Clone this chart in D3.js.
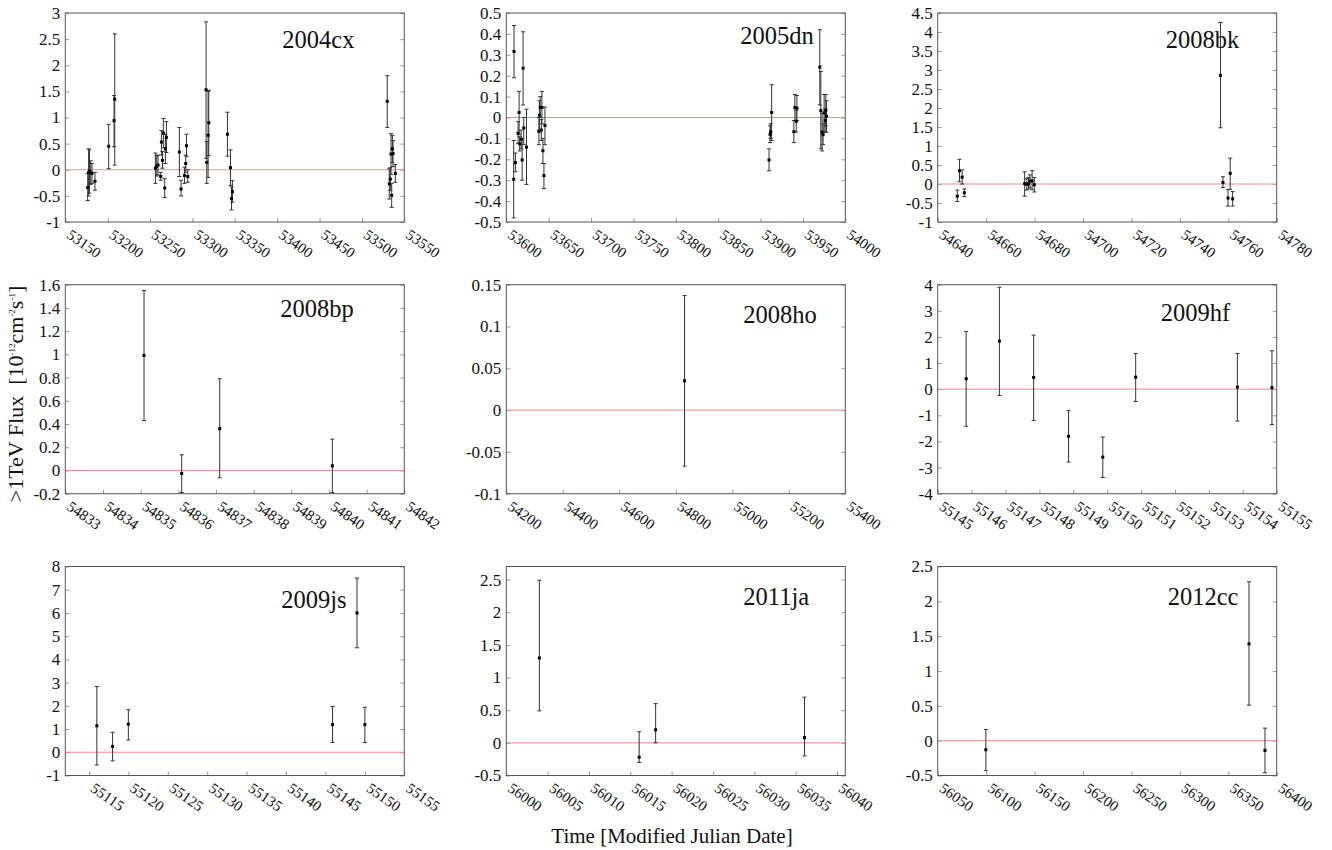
<!DOCTYPE html>
<html>
<head>
<meta charset="utf-8">
<script src="https://cdn.jsdelivr.net/npm/d3@7"></script>
<style>
body { margin: 0; background: #fff; }
svg text { font-family: "Liberation Serif", "Times New Roman", serif; fill: #111; }
</style>
</head>
<body>
<div id="chart"></div>
<script>
// light curves, >1TeV flux in 1e-12 cm^-2 s^-1, lo/hi are the error bar ends
var names = ["2004cx", "2005dn", "2008bk", "2008bp", "2008ho", "2009hf", "2009js", "2011ja", "2012cc"];

var t2004cx = [53176.4, 53177.5, 53178.5, 53180, 53181.5, 53185, 53201.2, 53207.5, 53208.3,
  53256.3, 53257.9, 53259.4, 53262.6, 53263.4, 53264.6, 53265.7, 53267.3, 53268.1, 53269.3,
  53284.6, 53286.6, 53290.6, 53292.1, 53293, 53294.5, 53316.1, 53316.9, 53318.5, 53319.3,
  53341.3, 53344.9, 53346.1, 53347.2, 53529.9, 53532.3, 53533.5, 53534.3, 53535.1, 53535.9, 53536.7, 53539.4];
var f2004cx = [-0.34, -0.05, -0.03, -0.05, -0.07, -0.22, 0.45, 0.94, 1.35,
  0.03, 0.07, 0.09, -0.13, 0.53, 0.18, 0.7, -0.35, 0.4, 0.62,
  0.34, -0.37, -0.11, 0.12, 0.46, -0.13, 1.53, 0.14, 0.66, 0.9,
  0.68, 0.04, -0.55, -0.42, 1.31, -0.27, -0.18, 0.3, -0.49, 0.4, 0.31, -0.07];
var lo2004cx = [-0.59, -0.5, -0.45, -0.28, -0.26, -0.39, 0.02, 0.44, 0.09,
  -0.26, -0.12, -0.1, -0.2, 0.28, 0.03, 0.42, -0.53, 0.12, 0.33,
  -0.13, -0.5, -0.26, -0.05, 0.25, -0.24, 0.22, -0.26, -0.15, 0.27,
  0.26, -0.3, -0.77, -0.62, 0.81, -0.56, -0.4, -0.09, -0.72, 0.14, 0.06, -0.24];
var hi2004cx = [-0.07, 0.4, 0.38, 0.17, 0.12, -0.05, 0.87, 1.42, 2.6,
  0.32, 0.27, 0.28, -0.05, 0.75, 0.35, 0.98, -0.17, 0.68, 0.92,
  0.81, -0.2, 0.05, 0.28, 0.68, 0.0, 2.83, 0.54, 1.5, 1.52,
  1.1, 0.38, -0.33, -0.21, 1.8, 0.02, 0.04, 0.69, -0.26, 0.66, 0.56, 0.1];

var t2005dn = [53608.7, 53609.1, 53610.7, 53613.9, 53615.1, 53615.8, 53617.5, 53618.7, 53619.8, 53620.6, 53623.8,
  53638.5, 53639.1, 53640, 53641.3, 53642, 53643.2, 53644.4, 53645.6,
  53910, 53911.2, 53911.9, 53913.1, 53939.3, 53940.5, 53942.1, 53942.9,
  53969.9, 53971.1, 53972.6, 53973.8, 53975, 53976.2, 53977, 53977.8];
var f2005dn = [-0.296, 0.316, -0.216, -0.075, 0.024, -0.126, -0.104, -0.203, 0.236, -0.05, -0.142,
  -0.067, 0.011, 0.049, -0.06, 0.048, -0.159, -0.278, -0.038,
  -0.203, -0.081, -0.068, 0.024, -0.068, 0.048, -0.018, 0.045,
  0.241, 0.033, -0.07, -0.082, 0.022, -0.015, 0.035, 0.006];
var lo2005dn = [-0.48, 0.19, -0.26, -0.125, -0.08, -0.16, -0.15, -0.3, 0.06, -0.13, -0.32,
  -0.13, -0.06, 0.0, -0.11, -0.03, -0.22, -0.34, -0.13,
  -0.255, -0.12, -0.1, -0.11, -0.12, -0.015, -0.07, -0.015,
  0.06, -0.15, -0.16, -0.13, -0.07, -0.07, -0.04, -0.07];
var hi2005dn = [-0.11, 0.44, -0.17, -0.02, 0.125, -0.09, -0.06, -0.1, 0.41, 0.0, 0.04,
  0.0, 0.08, 0.1, -0.01, 0.125, -0.1, -0.22, 0.05,
  -0.15, -0.04, -0.03, 0.157, -0.015, 0.11, 0.035, 0.105,
  0.42, 0.22, 0.02, -0.03, 0.11, 0.04, 0.11, 0.08];

var t2008bk = [54648.1, 54649, 54650.1, 54651, 54675.9, 54676.8, 54677.5, 54678.1, 54679, 54679.9,
  54756.8, 54757.8, 54759.9, 54760.8, 54761.8];
var f2008bk = [-0.32, 0.35, 0.18, -0.23, 0.01, -0.01, 0.01, 0.08, 0.08, -0.02,
  2.86, 0.04, -0.37, 0.28, -0.39];
var lo2008bk = [-0.46, 0.06, 0.0, -0.33, -0.32, -0.16, -0.13, -0.1, -0.15, -0.21,
  1.48, -0.09, -0.58, -0.14, -0.58];
var hi2008bk = [-0.16, 0.65, 0.37, -0.13, 0.32, 0.14, 0.17, 0.24, 0.35, 0.17,
  4.25, 0.19, -0.15, 0.68, -0.2];

var t2008bp = [54835.09, 54836.09, 54837.1, 54840.09];
var f2008bp = [0.99, -0.026, 0.36, 0.04];
var lo2008bp = [0.43, -0.19, -0.063, -0.19];
var hi2008bp = [1.55, 0.135, 0.79, 0.27];

var t2008ho = [54831];
var f2008ho = [0.035];
var lo2008ho = [-0.067];
var hi2008ho = [0.137];

var t2009hf = [55145.84, 55146.82, 55147.83, 55148.86, 55149.87, 55150.84, 55153.84, 55154.86];
var f2009hf = [0.4, 1.84, 0.45, -1.8, -2.6, 0.46, 0.08, 0.06];
var lo2009hf = [-1.42, -0.24, -1.2, -2.79, -3.38, -0.47, -1.22, -1.35];
var hi2009hf = [2.21, 3.9, 2.07, -0.82, -1.83, 1.37, 1.37, 1.47];

var t2009js = [55116, 55118, 55120, 55145.9, 55149, 55150];
var f2009js = [1.14, 0.25, 1.21, 1.19, 6.0, 1.19];
var lo2009js = [-0.55, -0.37, 0.53, 0.42, 4.5, 0.42];
var hi2009js = [2.83, 0.86, 1.83, 1.97, 7.5, 1.94];

var t2011ja = [56004, 56016.07, 56018.06, 56036.07];
var f2011ja = [1.3, -0.22, 0.2, 0.08];
var lo2011ja = [0.49, -0.3, 0.0, -0.2];
var hi2011ja = [2.49, 0.17, 0.6, 0.7];

var t2012cc = [56099.7, 56371.4, 56387.9];
var f2012cc = [-0.13, 1.39, -0.14];
var lo2012cc = [-0.43, 0.51, -0.46];
var hi2012cc = [0.16, 2.28, 0.18];

// axis ticks
var xTicks = [
  [53150, 53200, 53250, 53300, 53350, 53400, 53450, 53500, 53550],
  [53600, 53650, 53700, 53750, 53800, 53850, 53900, 53950, 54000],
  [54640, 54660, 54680, 54700, 54720, 54740, 54760, 54780],
  [54833, 54834, 54835, 54836, 54837, 54838, 54839, 54840, 54841, 54842],
  [54200, 54400, 54600, 54800, 55000, 55200, 55400],
  [55145, 55146, 55147, 55148, 55149, 55150, 55151, 55152, 55153, 55154, 55155],
  [55115, 55120, 55125, 55130, 55135, 55140, 55145, 55150, 55155],
  [56000, 56005, 56010, 56015, 56020, 56025, 56030, 56035, 56040],
  [56050, 56100, 56150, 56200, 56250, 56300, 56350, 56400]
];
var yTicks = [
  [-1, -0.5, 0, 0.5, 1, 1.5, 2, 2.5, 3],
  [-0.5, -0.4, -0.3, -0.2, -0.1, 0, 0.1, 0.2, 0.3, 0.4, 0.5],
  [-1, -0.5, 0, 0.5, 1, 1.5, 2, 2.5, 3, 3.5, 4, 4.5],
  [-0.2, 0, 0.2, 0.4, 0.6, 0.8, 1, 1.2, 1.4, 1.6],
  [-0.1, -0.05, 0, 0.05, 0.1, 0.15],
  [-4, -3, -2, -1, 0, 1, 2, 3, 4],
  [-1, 0, 1, 2, 3, 4, 5, 6, 7, 8],
  [-0.5, 0, 0.5, 1, 1.5, 2, 2.5],
  [-0.5, 0, 0.5, 1, 1.5, 2, 2.5]
];
var xDomains = [[53150, 53550], [53600, 54000], [54640, 54780], [54833, 54842], [54200, 55400],
  [55145, 55155], [55112, 55155], [56000, 56041], [56050, 56400]];
var yDomains = [[-1, 3], [-0.5, 0.5], [-1, 4.5], [-0.2, 1.6], [-0.1, 0.15],
  [-4, 4], [-1, 8], [-0.5, 2.7], [-0.5, 2.5]];

var panels = [
  {t: t2004cx, f: f2004cx, lo: lo2004cx, hi: hi2004cx},
  {t: t2005dn, f: f2005dn, lo: lo2005dn, hi: hi2005dn},
  {t: t2008bk, f: f2008bk, lo: lo2008bk, hi: hi2008bk},
  {t: t2008bp, f: f2008bp, lo: lo2008bp, hi: hi2008bp},
  {t: t2008ho, f: f2008ho, lo: lo2008ho, hi: hi2008ho},
  {t: t2009hf, f: f2009hf, lo: lo2009hf, hi: hi2009hf},
  {t: t2009js, f: f2009js, lo: lo2009js, hi: hi2009js},
  {t: t2011ja, f: f2011ja, lo: lo2011ja, hi: hi2011ja},
  {t: t2012cc, f: f2012cc, lo: lo2012cc, hi: hi2012cc}
];

// layout
var svgWidth = 1332;
var svgHeight = 850;
var cols = [65.3, 506.3, 937.7];
var rows = [13, 284.7, 566.5];
var pw = 339;
var ph = 209;
var titleX = [217, 234, 228, 215, 237, 223, 216, 237, 230];
var titleY = [34.7, 31.3, 34.7, 32, 38, 36.3, 41, 38.3, 38.3];
var serif = '"Liberation Serif", "Times New Roman", serif';

var svg = d3.select("#chart")
  .append("svg")
  .attr("width", svgWidth)
  .attr("height", svgHeight);

var yFmt = d => String(+d.toFixed(3));

panels.forEach(function(p, i) {
  var g = svg.append("g")
    .attr("transform", `translate(${cols[i % 3]}, ${rows[Math.floor(i / 3)]})`);

  var x = d3.scaleLinear().domain(xDomains[i]).range([0, pw]);
  var y = d3.scaleLinear().domain(yDomains[i]).range([ph, 0]);

  var leftAxis = d3.axisLeft(y)
    .tickValues(yTicks[i])
    .tickSizeInner(-4)
    .tickSizeOuter(0)
    .tickPadding(5)
    .tickFormat(yFmt);
  var rightAxis = d3.axisRight(y)
    .tickValues(yTicks[i])
    .tickSizeInner(-4)
    .tickSizeOuter(0)
    .tickFormat("");
  var bottomAxis = d3.axisBottom(x)
    .tickValues(xTicks[i])
    .tickSizeInner(-4)
    .tickSizeOuter(0)
    .tickFormat(d => d);

  var ly = g.append("g").call(leftAxis).attr("font-family", null);
  ly.selectAll("text")
    .style("font-family", serif)
    .style("font-size", "17px");

  g.append("g")
    .attr("transform", `translate(${pw}, 0)`)
    .call(rightAxis);

  var bx = g.append("g")
    .attr("transform", `translate(0, ${ph})`)
    .call(bottomAxis)
    .attr("font-family", null);
  bx.selectAll("text")
    .attr("x", 0)
    .attr("y", 0)
    .attr("dy", null)
    .attr("text-anchor", "start")
    .attr("transform", "translate(0, 15) rotate(35)")
    .style("font-family", serif)
    .style("font-size", "15px");

  g.selectAll(".domain").remove();
  g.selectAll(".tick line").attr("stroke", "#999");

  // zero line
  g.append("line")
    .attr("x1", 0)
    .attr("x2", pw)
    .attr("y1", y(0))
    .attr("y2", y(0))
    .attr("stroke", "#f28c8c")
    .attr("stroke-width", 1);

  // frame
  g.append("rect")
    .attr("width", pw)
    .attr("height", ph)
    .attr("fill", "none")
    .attr("stroke", "#555")
    .attr("stroke-width", 1);

  var idx = d3.range(p.t.length);
  var bars = g.append("g").attr("stroke", "#333").attr("stroke-width", 1);

  bars.selectAll(".err")
    .data(idx)
    .enter()
    .append("line")
    .attr("x1", k => x(p.t[k]))
    .attr("x2", k => x(p.t[k]))
    .attr("y1", k => y(p.lo[k]))
    .attr("y2", k => y(p.hi[k]));

  bars.selectAll(".capLo")
    .data(idx)
    .enter()
    .append("line")
    .attr("x1", k => x(p.t[k]) - 2)
    .attr("x2", k => x(p.t[k]) + 2)
    .attr("y1", k => y(p.lo[k]))
    .attr("y2", k => y(p.lo[k]));

  bars.selectAll(".capHi")
    .data(idx)
    .enter()
    .append("line")
    .attr("x1", k => x(p.t[k]) - 2)
    .attr("x2", k => x(p.t[k]) + 2)
    .attr("y1", k => y(p.hi[k]))
    .attr("y2", k => y(p.hi[k]));

  g.selectAll(".pt")
    .data(idx)
    .enter()
    .append("rect")
    .attr("x", k => x(p.t[k]) - 1.5)
    .attr("y", k => y(p.f[k]) - 1.5)
    .attr("width", 3)
    .attr("height", 3)
    .attr("fill", "#000");

  g.append("text")
    .attr("x", titleX[i])
    .attr("y", titleY[i])
    .style("font-size", "24.5px")
    .text(names[i]);
});

// axis titles
var yLabel = svg.append("text")
  .attr("transform", "translate(23, 394) rotate(-90)")
  .attr("text-anchor", "middle")
  .style("font-size", "22px");
yLabel.append("tspan").text(">1TeV Flux\u00a0\u00a0[10");
yLabel.append("tspan").attr("dy", -8).style("font-size", "9px").text("-12");
yLabel.append("tspan").attr("dy", 8).text("cm");
yLabel.append("tspan").attr("dy", -8).style("font-size", "9px").text("-2");
yLabel.append("tspan").attr("dy", 8).text("s");
yLabel.append("tspan").attr("dy", -8).style("font-size", "9px").text("-1");
yLabel.append("tspan").attr("dy", 8).text("]");

svg.append("text")
  .attr("x", 672)
  .attr("y", 843)
  .attr("text-anchor", "middle")
  .style("font-size", "21px")
  .text("Time [Modified Julian Date]");
</script>
</body>
</html>
